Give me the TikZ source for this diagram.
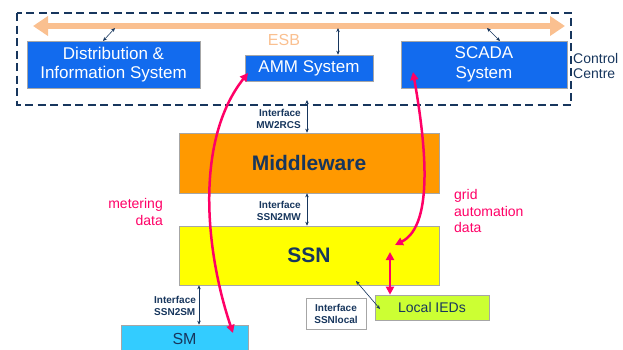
\documentclass[tikz,border=0pt]{standalone}
\usepackage{fontspec}
\setmainfont{Liberation Sans}
\usetikzlibrary{arrows.meta,calc}
\definecolor{navy}{HTML}{17365D}
\definecolor{boxblue}{HTML}{126BEE}
\definecolor{esbcol}{HTML}{FAC090}
\definecolor{mwor}{HTML}{FF9900}
\definecolor{ssnyel}{HTML}{FFFF00}
\definecolor{smblue}{HTML}{33CCFF}
\definecolor{iedgreen}{HTML}{CCFF33}
\definecolor{pinkc}{HTML}{FF0066}
\tikzset{
  bluebox/.style={draw=gray!70, line width=0.6pt, fill=boxblue, text=white, align=center, inner sep=0pt,
    font=\fontsize{17}{19.5}\selectfont},
  bigbox/.style={draw=gray!70, line width=0.6pt, inner sep=0pt, text=navy, font=\fontsize{21}{24}\selectfont\bfseries},
  smallbox/.style={draw=gray!70, line width=0.6pt, inner sep=0pt, text=navy, font=\fontsize{14}{17}\selectfont},
  iflabel/.style={text=navy, font=\fontsize{10}{12}\selectfont\bfseries, inner sep=0pt},
  link/.style={navy, line width=0.6pt, {Stealth[length=4pt,width=3.5pt]}-{Stealth[length=4pt,width=3.5pt]}},
  pinkarrow/.style={pinkc, line width=2.5pt, {Triangle[length=8pt,width=8pt]}-{Triangle[length=8pt,width=8pt]}},
  pinktext/.style={text=pinkc, font=\fontsize{14}{16.5}\selectfont, inner sep=0pt},
}
\begin{document}
\begin{tikzpicture}[x=1pt,y=-1pt]
\useasboundingbox (0,0) rectangle (623,349);
% control centre frame
\draw[navy, line width=1.4pt, dash pattern=on 8pt off 4.5pt] (17,13) rectangle (571,105);
\coordinate (esbL) at (33,26);
\coordinate (esbR) at (565,26);
\draw[esbcol, line width=6.5pt, {Triangle[length=15pt,width=19pt]}-{Triangle[length=15pt,width=19pt]}] (esbL) -- (esbR);
\node[text=esbcol, font=\fontsize{16}{19}\selectfont, inner sep=0pt] (esb) at (284,40) {ESB};
\node[navy, font=\fontsize{14}{15.5}\selectfont, align=left, anchor=west, inner sep=0pt] (cc) at (573,66) {Control\\Centre};

\node[bluebox, minimum width=173pt, minimum height=47pt] (dist) at (113.5,64.5) {Distribution \&\\Information System};
\node[bluebox, minimum width=128pt, minimum height=26pt] (amm) at (309,68) {AMM System};
\node[bluebox, minimum width=166pt, minimum height=47pt] (scada) at (484,64.5) {SCADA\\System};

\node[bigbox, fill=mwor, minimum width=260pt, minimum height=60pt] (mw) at (309,163) {Middleware};
\node[bigbox, fill=ssnyel, minimum width=260pt, minimum height=59pt] (ssn) at (309,255.5) {SSN};
\node[draw=gray!70, line width=0.6pt, fill=smblue, text=navy, inner sep=0pt, font=\fontsize{16}{19}\selectfont, minimum width=127pt, minimum height=27pt] (sm) at (184.5,338.5) {SM};
\node[smallbox, fill=iedgreen, minimum width=114pt, minimum height=25pt] (ied) at (432,307.5) {Local IEDs};
\node[draw=gray!70, line width=0.6pt, fill=white, iflabel, align=center, minimum width=60pt, minimum height=31pt] (ssnloc) at (336,313.5) {Interface\\SSNlocal};

% ESB links
\coordinate (e1) at (115,28);
\coordinate (d1) at (103,41);
\draw[link] (e1) -- (d1);
\coordinate (e2) at (338,28);
\draw[link] (e2) -- (e2 |- amm.north);
\coordinate (e3) at (487,28);
\coordinate (s3) at (500,41);
\draw[link] (e3) -- (s3);

% vertical interfaces
\coordinate (ctop) at (307,100);
\draw[link] (ctop) -- (ctop |- mw.north);
\node[iflabel, align=right, anchor=east] (l1) at (301,119) {Interface\\MW2RCS};
\coordinate (c2) at (307,193);
\draw[link] (c2 |- mw.south) -- (c2 |- ssn.north);
\node[iflabel, align=right, anchor=east] (l2) at (301,211) {Interface\\SSN2MW};
\coordinate (c3) at (199,285);
\draw[link] (c3 |- ssn.south) -- (c3 |- sm.north);
\node[iflabel, align=left, anchor=west] (l3) at (154,305.5) {Interface\\SSN2SM};
\coordinate (c4) at (356,281);
\coordinate (c5) at (380,309);
\draw[link] (c4) -- (c5);

% pink data flows
\coordinate (p1) at (233,333);
\coordinate (p2) at (248,73);
\draw[pinkarrow] (p1) .. controls (205,250) and (195,140) .. (p2);
\coordinate (q1) at (413,72);
\coordinate (q2) at (395,245);
\draw[pinkarrow] (q1) .. controls (425,140) and (435,225) .. (q2);
\coordinate (r1) at (390,252);
\draw[pinkarrow] (r1) -- (r1 |- ied.north);
\node[pinktext, align=right, anchor=east] (md) at (163,212) {metering\\data};
\node[pinktext, align=left, anchor=west] (gd) at (454,211) {grid\\automation\\data};
\end{tikzpicture}
\end{document}
